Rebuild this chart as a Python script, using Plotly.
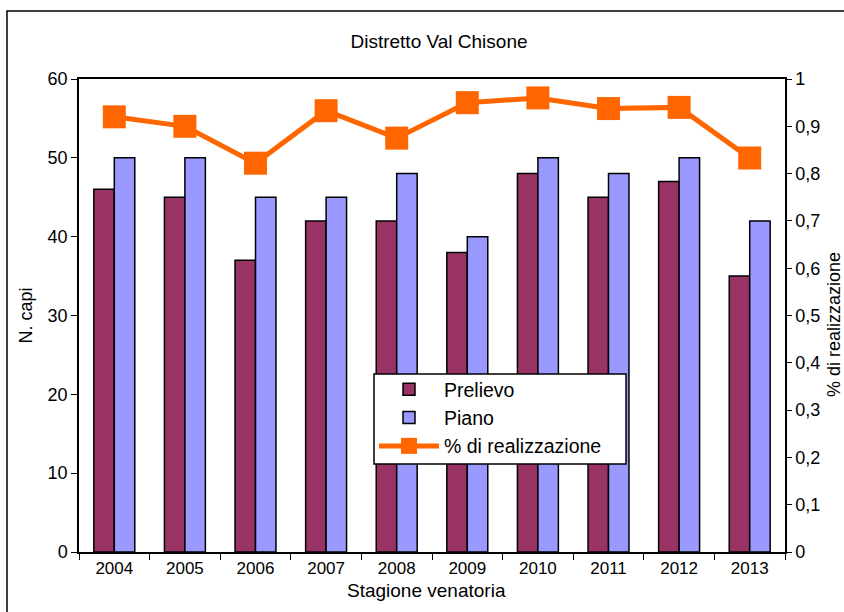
import plotly.graph_objects as go

# Hunting district data per season
stagioni = ["2004", "2005", "2006", "2007", "2008", "2009", "2010", "2011", "2012", "2013"]
prelievo = [46, 45, 37, 42, 42, 38, 48, 45, 47, 35]
piano = [50, 50, 45, 45, 48, 40, 50, 48, 50, 42]
realizzazione = [0.92, 0.90, 0.822, 0.933, 0.875, 0.95, 0.96, 0.9375, 0.94, 0.833]

left_ticks = [0, 10, 20, 30, 40, 50, 60]
right_ticks = [0, 0.1, 0.2, 0.3, 0.4, 0.5, 0.6, 0.7, 0.8, 0.9, 1]
right_labels = ["0", "0,1", "0,2", "0,3", "0,4", "0,5", "0,6", "0,7", "0,8", "0,9", "1"]

FONT = "Liberation Sans, Arial, sans-serif"

# Plot area geometry in pixels
L, T, W, H = 79, 79, 706, 473


def px_x(x):
    return (x - L) / W


def px_y(y):
    return (T + H - y) / H


fig = go.Figure()
fig.add_trace(go.Bar(
    x=stagioni, y=prelievo, name="Prelievo",
    marker=dict(color="#993366", line=dict(color="black", width=1.5)),
))
fig.add_trace(go.Bar(
    x=stagioni, y=piano, name="Piano",
    marker=dict(color="#9999FF", line=dict(color="black", width=1.5)),
))
fig.add_trace(go.Scatter(
    x=stagioni, y=realizzazione, name="% di realizzazione", yaxis="y2",
    mode="lines+markers",
    line=dict(color="#FF6600", width=5),
    marker=dict(symbol="square", size=23, color="#FF6600"),
))

fig.update_layout(
    width=844, height=612,
    margin=dict(l=L, r=844 - L - W, t=T, b=612 - T - H),
    paper_bgcolor="white", plot_bgcolor="white",
    barmode="group", bargap=0.42, bargroupgap=0,
    showlegend=True,
    title=dict(text="Distretto Val Chisone", x=px_x(439),
               xref="paper", xanchor="center",
               y=1 - 41 / 612, yanchor="middle",
               font=dict(family=FONT, size=19, color="black")),
    font=dict(family=FONT, size=17, color="black"),
    legend=dict(x=px_x(374), y=px_y(370), xanchor="left", yanchor="top",
                bgcolor="rgba(0,0,0,0)", borderwidth=0,
                itemwidth=60, tracegroupgap=0,
                font=dict(family=FONT, size=19.5, color="black")),
    xaxis=dict(
        type="category", range=[-0.5, 9.5], showline=True, linecolor="black",
        linewidth=1.5, mirror=True, ticks="outside", tickson="boundaries",
        ticklen=6, tickcolor="black", showgrid=False,
        tickfont=dict(size=17),
    ),
    yaxis=dict(
        range=[0, 60], tickvals=left_ticks, showline=True, linecolor="black",
        linewidth=1.5, ticks="outside", ticklen=6, tickcolor="black",
        showgrid=False, zeroline=False, tickfont=dict(size=18),
        automargin=False,
        title=dict(text="N. capi", standoff=10, font=dict(size=18)),
    ),
    yaxis2=dict(
        range=[0, 1], tickvals=right_ticks, ticktext=right_labels,
        overlaying="y", side="right", showline=True, linecolor="black",
        linewidth=1.5, ticks="outside", ticklen=5, tickcolor="black",
        showgrid=False, zeroline=False, tickfont=dict(size=18),
        automargin=False,
    ),
)

# Axis titles placed as annotations
fig.add_annotation(text="Stagione venatoria", xref="paper", yref="paper",
                   x=px_x(426), y=px_y(590), xanchor="center", yanchor="middle",
                   showarrow=False, font=dict(size=19, color="black"))
fig.add_annotation(text="% di realizzazione", xref="paper", yref="paper",
                   x=px_x(834), y=px_y(325), xanchor="center", yanchor="middle",
                   textangle=-90, showarrow=False,
                   font=dict(size=18, color="black"))

# Legend frame
fig.add_shape(type="rect", xref="paper", yref="paper",
              x0=px_x(374), x1=px_x(626), y0=px_y(464), y1=px_y(374),
              line=dict(color="black", width=1.5), fillcolor="white",
              layer="above")

# Outer chart frame
fig.add_shape(type="rect", xref="paper", yref="paper",
              x0=px_x(7), x1=1.2, y0=-0.2, y1=px_y(11),
              line=dict(color="black", width=1.5), fillcolor="rgba(0,0,0,0)",
              layer="above")

fig.write_html("out.html")
